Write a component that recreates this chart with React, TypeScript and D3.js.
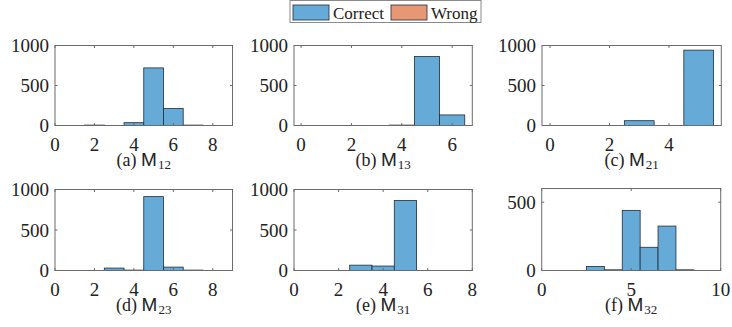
import React from "react";
import * as d3 from "d3";

// ---- data (bin centers, bin width 1) ----
const m12Bins = [2, 4, 5, 6, 7];
const m12Correct = [5, 35, 720, 212, 5];
const m13Bins = [4, 5, 6];
const m13Correct = [5, 862, 132];
const m21Bins = [3, 5];
const m21Correct = [60, 942];
const m23Bins = [3, 4, 5, 6, 7];
const m23Correct = [30, 5, 912, 42, 5];
const m31Bins = [3, 4, 5];
const m31Correct = [66, 55, 864];
const m32Bins = [3, 4, 5, 6, 7, 8];
const m32Correct = [30, 5, 440, 170, 325, 5];

const seriesNames = ["Correct", "Wrong"];
const panelLetters = ["a", "b", "c", "d", "e", "f"];
const panelSubs = ["12", "13", "21", "23", "31", "32"];

const xTicksA = [0, 2, 4, 6, 8];
const xTicksB = [0, 2, 4, 6];
const xTicksC = [0, 2, 4];
const xTicksE = [0, 2, 4, 6, 8];
const xTicksF = [0, 5, 10];
const yTicks1000 = [0, 500, 1000];
const yTicks600 = [0, 500];

const BLUE = "#66aad7";
const ORANGE = "#e89775";
const EDGE = "#1e2d3a";
const AXIS = "#6b6b6b";
const SERIF = "Liberation Serif, DejaVu Serif, Times New Roman, serif";
const SANS = "Liberation Sans, Arial, sans-serif";

type Panel = {
  bins: number[];
  counts: number[];
  x0: number; x1: number; y0: number; y1: number;
  xDom: [number, number];
  yDom: [number, number];
  xTicks: number[];
  yTicks: number[];
};

const panels: Panel[] = [
  { bins: m12Bins, counts: m12Correct, x0: 55, x1: 232.5, y0: 45.5, y1: 125.5, xDom: [0, 9], yDom: [0, 1000], xTicks: xTicksA, yTicks: yTicks1000 },
  { bins: m13Bins, counts: m13Correct, x0: 294, x1: 472.3, y0: 45.5, y1: 125.5, xDom: [-0.28, 6.8], yDom: [0, 1000], xTicks: xTicksB, yTicks: yTicks1000 },
  { bins: m21Bins, counts: m21Correct, x0: 542, x1: 721.3, y0: 45.5, y1: 125.5, xDom: [-0.27, 5.76], yDom: [0, 1000], xTicks: xTicksC, yTicks: yTicks1000 },
  { bins: m23Bins, counts: m23Correct, x0: 55, x1: 232.5, y0: 189.5, y1: 270.5, xDom: [0, 9], yDom: [0, 1000], xTicks: xTicksA, yTicks: yTicks1000 },
  { bins: m31Bins, counts: m31Correct, x0: 294, x1: 472.3, y0: 189.5, y1: 270.5, xDom: [0, 8], yDom: [0, 1000], xTicks: xTicksE, yTicks: yTicks1000 },
  { bins: m32Bins, counts: m32Correct, x0: 541.7, x1: 720.7, y0: 188.5, y1: 270.5, xDom: [0, 10], yDom: [0, 600], xTicks: xTicksF, yTicks: yTicks600 },
];

const serifStyle = (size: number) => ({ fontFamily: SERIF, fontSize: size });

function HistPanel({ p, idx }: { p: Panel; idx: number }) {
  const x = d3.scaleLinear().domain(p.xDom).range([p.x0, p.x1]);
  const y = d3.scaleLinear().domain(p.yDom).range([p.y1, p.y0]);
  const tl = 2.5;
  return (
    <g>
      <rect x={p.x0} y={p.y0} width={p.x1 - p.x0} height={p.y1 - p.y0} fill="#fff" />
      {p.bins.map((b, i) => {
        const c = p.counts[i];
        if (!c) return null;
        return (
          <rect
            key={i}
            x={x(b - 0.5)}
            y={y(c)}
            width={x(b + 0.5) - x(b - 0.5)}
            height={y(0) - y(c)}
            fill={BLUE}
            stroke={EDGE}
            strokeWidth={0.8}
          />
        );
      })}
      <rect x={p.x0} y={p.y0} width={p.x1 - p.x0} height={p.y1 - p.y0} fill="none" stroke={AXIS} strokeWidth={1} />
      {p.xTicks.map((t) => (
        <g key={"x" + t}>
          <line x1={x(t)} x2={x(t)} y1={p.y1} y2={p.y1 - tl} stroke={AXIS} />
          <line x1={x(t)} x2={x(t)} y1={p.y0} y2={p.y0 + tl} stroke={AXIS} />
          <text x={x(t)} y={p.y1 + 25} textAnchor="middle" style={serifStyle(19)} fill="#222">
            {t}
          </text>
        </g>
      ))}
      {p.yTicks.map((t) => (
        <g key={"y" + t}>
          <line x1={p.x0} x2={p.x0 + tl} y1={y(t)} y2={y(t)} stroke={AXIS} />
          <line x1={p.x1} x2={p.x1 - tl} y1={y(t)} y2={y(t)} stroke={AXIS} />
          <text x={p.x0 - 6} y={y(t) + 6.5} textAnchor="end" style={serifStyle(19)} fill="#222">
            {t}
          </text>
        </g>
      ))}
      <text x={(p.x0 + p.x1) / 2} y={p.y1 + 40} textAnchor="middle" fill="#222">
        <tspan style={serifStyle(18)}>{`(${panelLetters[idx]}) `}</tspan>
        <tspan style={{ fontFamily: SANS, fontSize: 19 }}>M</tspan>
        <tspan style={serifStyle(13)} dx={1} dy={3}>{panelSubs[idx]}</tspan>
      </text>
    </g>
  );
}

export default function App() {
  return (
    <svg width={732} height={327} style={{ position: "absolute", left: 0, top: 0, background: "#fff" }}>
      {panels.map((p, i) => (
        <HistPanel key={i} p={p} idx={i} />
      ))}
      <g>
        <rect x={290} y={0.5} width={191} height={22} fill="#fff" stroke="#8a8a8a" strokeWidth={1} />
        <rect x={293} y={5} width={36} height={15} fill={BLUE} stroke={EDGE} strokeWidth={0.8} />
        <text x={333} y={19} style={serifStyle(17)} fill="#222">{seriesNames[0]}</text>
        <rect x={391} y={5} width={36} height={15} fill={ORANGE} stroke={EDGE} strokeWidth={0.8} />
        <text x={431} y={19} style={serifStyle(17)} fill="#222">{seriesNames[1]}</text>
      </g>
    </svg>
  );
}
